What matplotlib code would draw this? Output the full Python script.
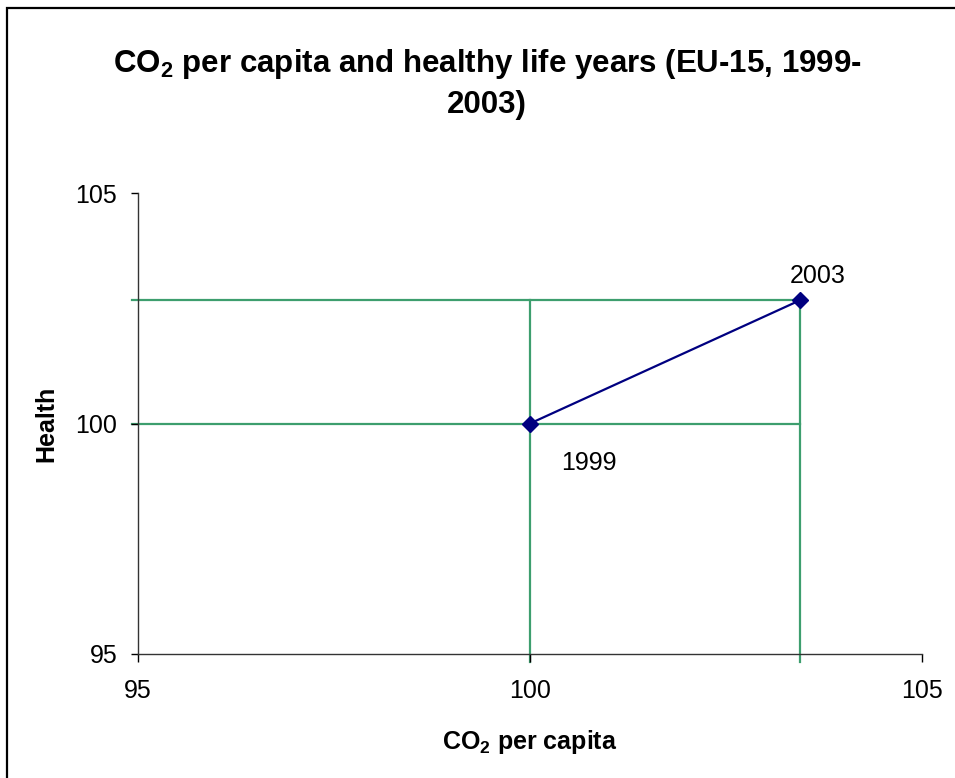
import matplotlib
matplotlib.use('Agg')
import matplotlib.pyplot as plt
from matplotlib.patches import Rectangle

plt.rcParams['font.family'] = ['Liberation Sans', 'DejaVu Sans']
plt.rcParams['mathtext.fontset'] = 'custom'
plt.rcParams['mathtext.rm'] = 'Liberation Sans'
plt.rcParams['mathtext.bf'] = 'Liberation Sans:bold'

# EU-15 index values (1999 = 100)
years = ['1999', '2003']
co2_index = [100.0, 103.44]
health_index = [100.0, 102.67]

x_ticks = [95, 100, 105]
y_ticks = [95, 100, 105]

fig = plt.figure(figsize=(9.55, 7.78), dpi=100)
ax = fig.add_axes([0.1445, 0.1594, 0.8209, 0.5925])

xmin, xmax = 95, 105
ymin, ymax = 95, 105
ax.set_xlim(xmin, xmax)
ax.set_ylim(ymin, ymax)

# green guide lines from the axes out to each year's value
green = '#3d9e6e'
x_out = xmin - 0.08
y_out = ymin - 0.17
for xv, yv in zip(co2_index, health_index):
    ax.plot([x_out, max(co2_index)], [yv, yv], color=green, lw=1.6,
            clip_on=False, zorder=1)
    ax.plot([xv, xv], [y_out, max(health_index)], color=green, lw=1.6,
            clip_on=False, zorder=1)

ax.plot(co2_index, health_index, color='#000080', lw=1.6, marker='D',
        markersize=8, zorder=3, clip_on=False)

ax.annotate(years[0], (co2_index[0], health_index[0]), xytext=(59, -39),
            textcoords='offset pixels', ha='center', va='center', fontsize=18)
ax.annotate(years[1], (co2_index[1], health_index[1]), xytext=(18, 24),
            textcoords='offset pixels', ha='center', va='center', fontsize=18)

for side in ['top', 'right']:
    ax.spines[side].set_visible(False)
for side in ['left', 'bottom']:
    ax.spines[side].set_color('#333333')
    ax.spines[side].set_linewidth(1.0)

ax.set_xticks(x_ticks)
ax.set_yticks(y_ticks)
ax.set_xticklabels([str(t) for t in x_ticks], fontsize=18)
ax.set_yticklabels([str(t) for t in y_ticks], fontsize=18)
ax.tick_params(axis='x', length=6, width=1, pad=12)
ax.tick_params(axis='y', length=5, width=1, pad=10)

ax.set_xlabel(r'CO$_\mathbf{2}$ per capita', fontsize=18, fontweight='bold',
              labelpad=18)
ax.set_ylabel('Health', fontsize=18, fontweight='bold', labelpad=12)

fig.text(0.51, 0.918,
         r'CO$_\mathbf{2}$ per capita and healthy life years (EU-15, 1999-',
         ha='center', va='center', fontsize=22.5, fontweight='bold')
fig.text(0.51, 0.865, '2003)', ha='center', va='center', fontsize=22.5,
         fontweight='bold')

# outer frame around the chart
fig.patches.append(Rectangle((6.5 / 955, -0.5), 2.0, 1.5 - 8 / 778,
                             transform=fig.transFigure, fill=False,
                             edgecolor='black', lw=1.6))

fig.savefig('out.png', dpi=100)
